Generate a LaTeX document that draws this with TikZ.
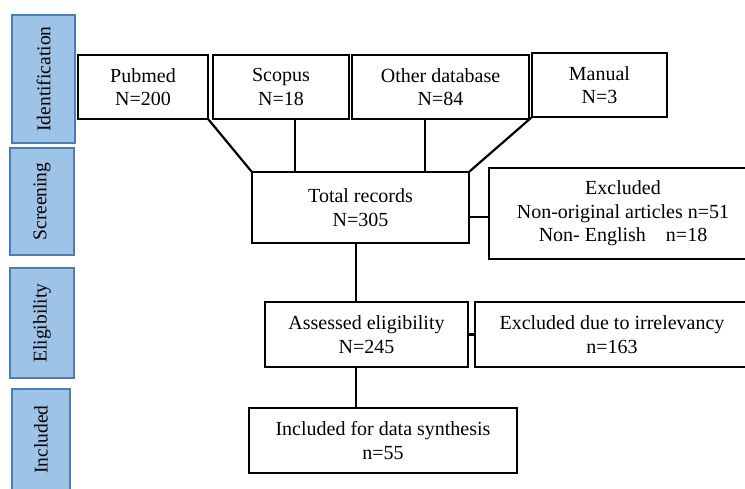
\documentclass[tikz,border=0pt]{standalone}
\usepackage{fontspec}
\setmainfont{Liberation Serif}
\definecolor{tabfill}{HTML}{9DC3E6}
\definecolor{tabdraw}{HTML}{4A7EBB}
\begin{document}
\begin{tikzpicture}[x=1pt,y=-1pt,
  box/.style={draw=black,line width=1.1pt,fill=white,align=center,inner sep=0pt,
    font=\fontsize{20}{23.5}\selectfont},
  tab/.style={draw=tabdraw,line width=1.2pt,fill=tabfill,rotate=90,inner sep=0pt,
    font=\fontsize{19.5}{23}\selectfont},
  conn/.style={draw=black,line width=2.2pt}]
\useasboundingbox (0,0) rectangle (745,489);
% phase tabs
\node[tab,minimum width=128pt,minimum height=63pt] (tid) at (43.5,79) {Identification};
\node[tab,minimum width=107pt,minimum height=64pt] (tscr) at (42,201.5) {Screening};
\node[tab,minimum width=110pt,minimum height=64pt] (teli) at (42,323) {Eligibility};
\node[tab,minimum width=101pt,minimum height=58pt] (tinc) at (41,439.5) {Included};
% boxes
\node[box,minimum width=130pt,minimum height=64pt] (pub) at (143,87) {Pubmed\\N=200};
\node[box,minimum width=136pt,minimum height=64pt] (sco) at (281,87) {Scopus\\N=18};
\node[box,minimum width=177pt,minimum height=64pt] (oth) at (440.5,87) {Other database\\N=84};
\node[box,minimum width=135pt,minimum height=64pt] (man) at (599.5,85) {Manual\\N=3};
\node[box,minimum width=217pt,minimum height=71pt] (tot) at (360.5,207.5) {Total records\\N=305};
\node[box,minimum width=268pt,minimum height=91pt] (exa) at (623,213.5) {Excluded\\Non-original articles n=51\\Non- English\ \ \ \ n=18};
\node[box,minimum width=203pt,minimum height=65pt] (ass) at (366.5,334.5) {Assessed eligibility\\N=245};
\node[box,minimum width=274pt,minimum height=65pt] (exb) at (612,334.5) {Excluded due to irrelevancy\\n=163};
\node[box,minimum width=268pt,minimum height=65pt] (inc) at (383,440.5) {Included for data synthesis\\n=55};
% connectors
\draw[conn] (pub.south east) -- (tot.north west);
\draw[conn] ([xshift=14pt]sco.south) -- ([xshift=14pt]sco.south |- tot.north);
\draw[conn] ([xshift=-15.5pt]oth.south) -- ([xshift=-15.5pt]oth.south |- tot.north);
\draw[conn] (man.south west) -- (tot.north east);
\draw[conn] (tot.east |- exa.west) ++(0,3.5) coordinate (ta) (ta) -- ([yshift=-3.5pt]exa.west);
\draw[conn] ([xshift=-4.5pt]tot.south) -- ([xshift=-4.5pt]tot.south |- ass.north);
\draw[conn] (ass.east) -- (exb.west);
\draw[conn] ([xshift=-10.5pt]ass.south) -- ([xshift=-10.5pt]ass.south |- inc.north);
\end{tikzpicture}
\end{document}
